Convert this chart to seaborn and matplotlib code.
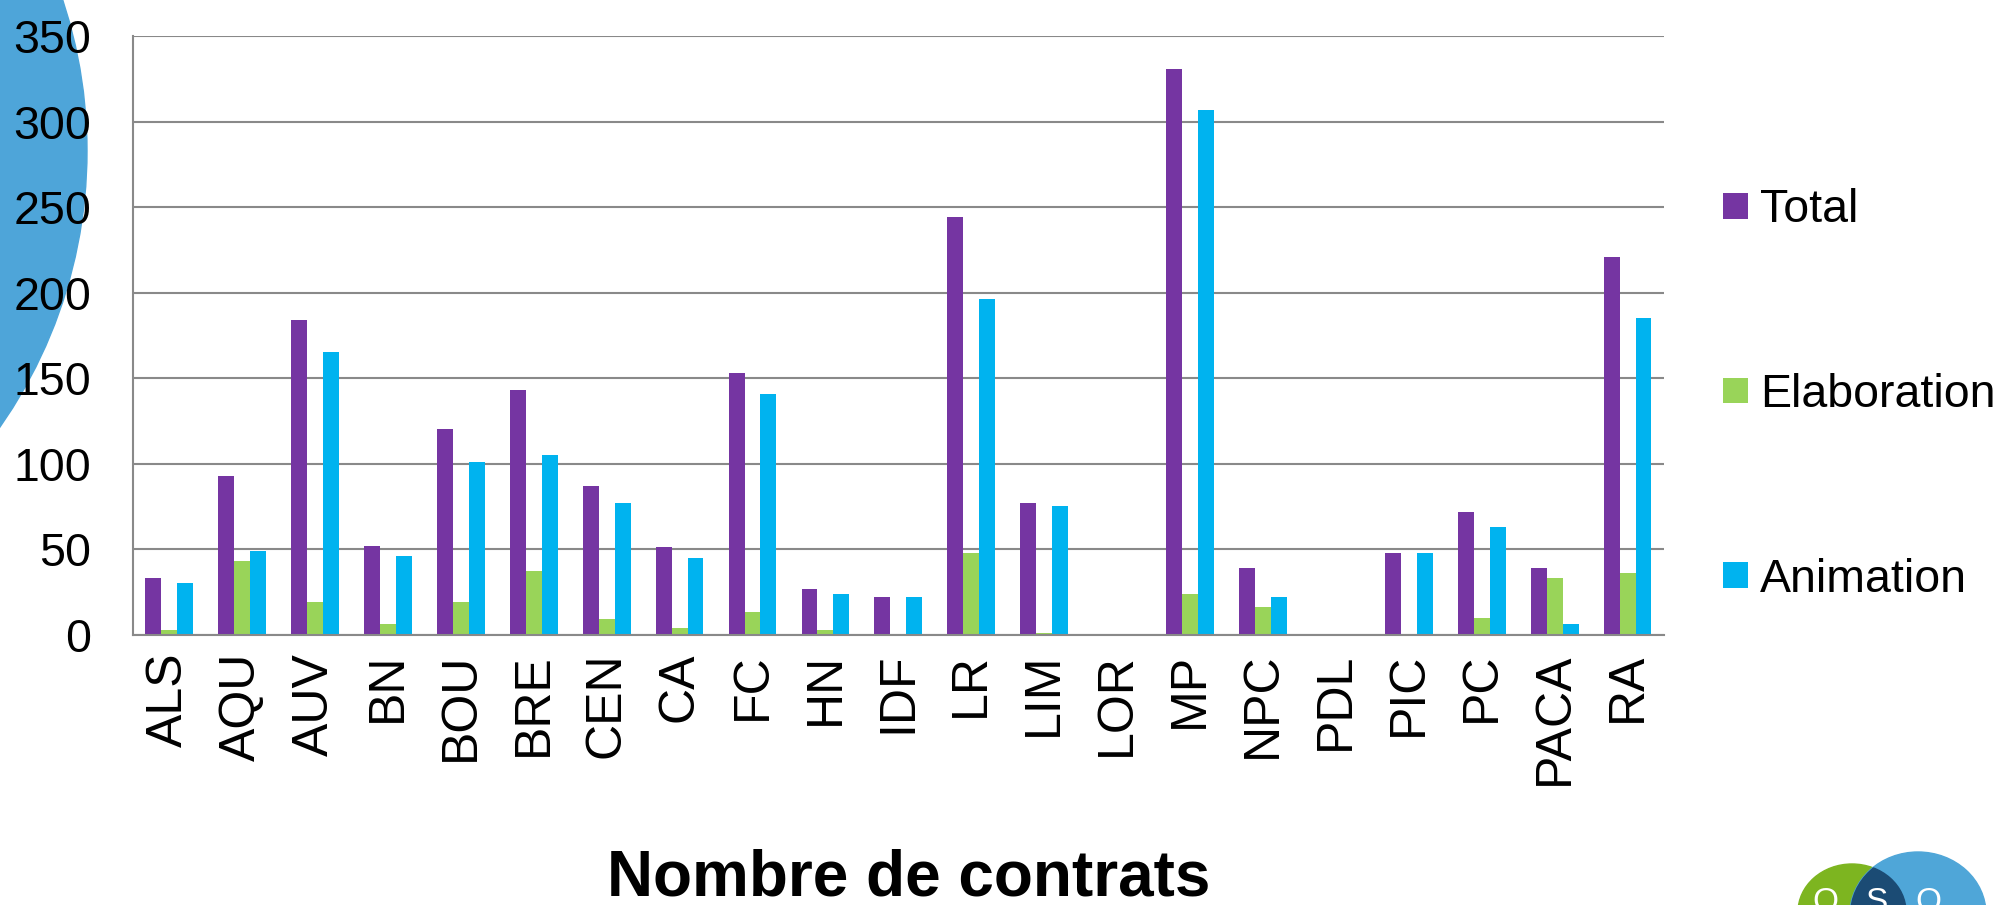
import pandas as pd
import matplotlib.pyplot as plt
import matplotlib.patches as mpatches
import seaborn as sns

regions = ['ALS', 'AQU', 'AUV', 'BN', 'BOU', 'BRE', 'CEN', 'CA', 'FC', 'HN', 'IDF',
           'LR', 'LIM', 'LOR', 'MP', 'NPC', 'PDL', 'PIC', 'PC', 'PACA', 'RA']
total = [33, 93, 184, 52, 120, 143, 87, 51, 153, 27, 22, 244, 77, 0, 331, 39, 0, 48, 72, 39, 221]
elaboration = [3, 43, 19, 6, 19, 37, 9, 4, 13, 3, 0, 48, 1, 0, 24, 16, 0, 0, 10, 33, 36]
animation = [30, 49, 165, 46, 101, 105, 77, 45, 141, 24, 22, 196, 75, 0, 307, 22, 0, 48, 63, 6, 185]
series = ['Total', 'Elaboration', 'Animation']
colors = ['#7535a2', '#99d459', '#00b3ef']
yticks = [0, 50, 100, 150, 200, 250, 300, 350]
title = 'Nombre de contrats'

df = pd.DataFrame({
    'region': regions * 3,
    'serie': [s for s in series for _ in regions],
    'valeur': total + elaboration + animation,
})

sns.set_style('white')
plt.rcParams['font.family'] = ['Liberation Sans', 'DejaVu Sans']
plt.rcParams['text.color'] = 'black'

W, H = 2006, 905
fig = plt.figure(figsize=(W / 100, H / 100), dpi=100)
ax = fig.add_axes([132.7 / W, (H - 634.7) / H, (1664 - 132.7) / W, (634.7 - 36) / H])
ax.patch.set_alpha(0)

sns.barplot(data=df, x='region', y='valeur', hue='serie', palette=colors,
            width=0.655, linewidth=0, saturation=1, ax=ax)

grid_c = '#898989'
ax.set_ylim(0, 350)
ax.set_xlim(-0.5, len(regions) - 0.5)
ax.set_yticks(yticks)
ax.yaxis.grid(True, color=grid_c, lw=1.5)
ax.set_axisbelow(True)
for s in ['top', 'right']:
    ax.spines[s].set_visible(False)
for s in ['left', 'bottom']:
    ax.spines[s].set_color(grid_c)
    ax.spines[s].set_linewidth(1.5)

ax.set_xlabel('')
ax.set_ylabel('')
ax.tick_params(axis='y', length=10, width=1.2, color=grid_c, pad=20, labelsize=33.5, labelcolor='black')
ax.tick_params(axis='x', which='major', length=0, pad=13, labelsize=36, labelrotation=90, labelcolor='black')
ax.set_xticks([i - 0.5 for i in range(len(regions) + 1)], minor=True)
ax.tick_params(axis='x', which='minor', length=11, width=1.2, color=grid_c)

handles, labels = ax.get_legend_handles_labels()
ax.legend_.remove()
fig.legend(handles, labels, loc='center left', bbox_to_anchor=(1723 / W, (H - 395) / H),
           frameon=False, fontsize=33.5, borderpad=0, borderaxespad=0,
           handlelength=0.54, handleheight=0.47, handletextpad=0.26, labelspacing=3.02)

fig.text(909 / W, 10 / H, title, ha='center', va='baseline', fontsize=46, fontweight='bold')

# cercle bleu du fond de diapo
tr = fig.dpi_scale_trans
fig.patches.append(mpatches.Circle((-394 / 100, (H - 151) / 100), 481 / 100,
                                   transform=tr, color='#4ea5d9', zorder=-1))

# logo en bas a droite
green = mpatches.Ellipse((1852 / 100, (H - 912) / 100), 108 / 100, 96 / 100, transform=tr, color='#7db520')
blue = mpatches.Ellipse((1918 / 100, (H - 914) / 100), 136 / 100, 124 / 100, transform=tr, color='#4fa6d8')
navy = mpatches.Ellipse((1852 / 100, (H - 912) / 100), 108 / 100, 96 / 100, transform=tr, color='#1b4b74')
for p in (green, blue, navy):
    fig.patches.append(p)
navy.set_clip_path(blue)
for x, t in [(1825, 'O'), (1877, 'S'), (1928, 'O')]:
    fig.text(x / W, (H - 887) / H, t, color='white', ha='center', va='top', fontsize=24)

fig.savefig('out.png', dpi=100)
